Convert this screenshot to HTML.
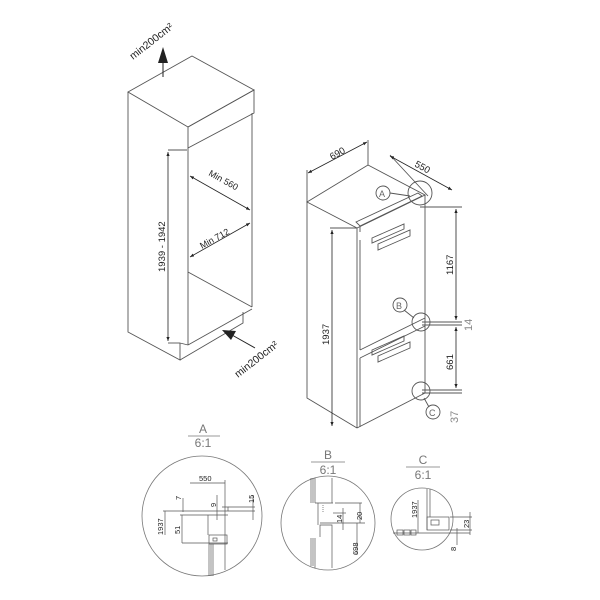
<!DOCTYPE html>
<html><head><meta charset="utf-8"><style>
html,body{margin:0;padding:0;background:#fff;}
svg{display:block;}
text{font-family:"Liberation Sans",sans-serif;fill:#222;}
</style></head><body>
<svg width="600" height="600" viewBox="0 0 600 600" xmlns="http://www.w3.org/2000/svg">
<defs>
<marker id="ar" viewBox="0 0 10 10" refX="10" refY="5" markerWidth="5" markerHeight="5" orient="auto-start-reverse"><path d="M0,1 L10,5 L0,9 z" fill="#222"/></marker>
</defs>
<g fill="none" stroke="#555" stroke-width="0.9">
<!-- LEFT CABINET -->
<polygon points="128,92 192,56 254,90 188,127" />
<polyline points="128,92 128,332 180,360 180,343"/>
<polygon points="188,127 254,90 254,113 188,148"/>
<line x1="188" y1="148" x2="188" y2="345"/>
<line x1="252" y1="113" x2="252" y2="307"/>
<line x1="188" y1="272" x2="252" y2="307"/>
<line x1="188" y1="345" x2="252" y2="309"/>
<polyline points="180,360 243,323 243,312"/>
<line x1="180" y1="343" x2="188" y2="345"/>
<!-- dims -->
<line x1="168" y1="150" x2="187" y2="150"/>
<line x1="168" y1="343" x2="180" y2="343"/>
</g>
<g stroke="#222" stroke-width="0.8" fill="none">
<line x1="168" y1="152" x2="168" y2="341" marker-start="url(#ar)" marker-end="url(#ar)"/>
<line x1="190" y1="176" x2="250" y2="210" marker-start="url(#ar)" marker-end="url(#ar)"/>
<line x1="190" y1="257" x2="250" y2="223" marker-start="url(#ar)" marker-end="url(#ar)"/>
</g>
<line x1="163" y1="77" x2="163" y2="62" stroke="#222" stroke-width="1"/>
<polygon points="158,63 168,63 163,47" fill="#222"/>
<line x1="255" y1="348" x2="232" y2="335" stroke="#222" stroke-width="1"/>
<polygon points="222,330 236,331 231,340" fill="#222"/>
<text x="0" y="0" font-size="10.5" transform="translate(133,60) rotate(-38)">min200cm²</text>
<text x="0" y="0" font-size="10.5" transform="translate(238,378) rotate(-38)">min200cm²</text>
<text x="0" y="0" font-size="9" transform="translate(208,175) rotate(29)">Min 560</text>
<text x="0" y="0" font-size="9" transform="translate(202,249) rotate(-29)">Min 712</text>
<text x="0" y="0" font-size="9.5" transform="translate(165,272) rotate(-90)">1939 - 1942</text>

<!-- RIGHT FRIDGE -->
<g fill="none" stroke="#555" stroke-width="0.9">
<polygon points="307,202 368,165 425,195 357,228"/>
<polyline points="307,202 307,398 357,428"/>
<line x1="357" y1="228" x2="357" y2="428"/>
<line x1="425" y1="195" x2="425" y2="393"/>
<line x1="357" y1="428" x2="425" y2="393"/>
<line x1="360" y1="240" x2="360" y2="350"/>
<line x1="360" y1="358" x2="360" y2="427"/>
<line x1="360" y1="350" x2="425" y2="318"/>
<line x1="360" y1="358" x2="425" y2="326"/>
<!-- top rail -->
<polygon points="356,222 418,193 422,196 360,226"/>
<line x1="360" y1="226" x2="360" y2="232"/>
<polygon points="372,238 404,224 404,229 372,243"/>
<polygon points="378,244 410,230 410,236 378,250"/>
<polygon points="372,350 404,336 404,341 372,355"/>
<polygon points="378,356 410,342 410,348 378,362"/>
<!-- extension lines -->
<line x1="307" y1="170" x2="307" y2="202"/>
<line x1="368" y1="140" x2="368" y2="165"/>
<line x1="390" y1="155" x2="428" y2="196"/>
<line x1="420" y1="207" x2="462" y2="207"/>
<line x1="422" y1="322" x2="462" y2="322"/>
<line x1="422" y1="325" x2="462" y2="325"/>
<line x1="422" y1="390" x2="462" y2="390"/>
<line x1="422" y1="393" x2="462" y2="393"/>
<line x1="330" y1="228" x2="357" y2="228"/>
<circle cx="420" cy="193" r="12"/>
<circle cx="421" cy="322" r="9"/>
<circle cx="421" cy="391" r="9"/>
<circle cx="383" cy="193" r="7"/>
<circle cx="400" cy="305" r="7"/>
<circle cx="433" cy="412" r="7"/>
<line x1="390" y1="193" x2="410" y2="196"/>
<line x1="404" y1="310" x2="414" y2="318"/>
<line x1="429" y1="407" x2="424" y2="398"/>
</g>
<g stroke="#222" stroke-width="0.8" fill="none">
<line x1="308" y1="173" x2="367" y2="142" marker-start="url(#ar)" marker-end="url(#ar)"/>
<line x1="390" y1="156" x2="452" y2="190" marker-start="url(#ar)" marker-end="url(#ar)"/>
<line x1="332" y1="230" x2="332" y2="426" marker-start="url(#ar)" marker-end="url(#ar)"/>
<line x1="456" y1="209" x2="456" y2="320" marker-start="url(#ar)" marker-end="url(#ar)"/>
<line x1="456" y1="327" x2="456" y2="388" marker-start="url(#ar)" marker-end="url(#ar)"/>
</g>
<text font-size="9.5" transform="translate(332,160) rotate(-29)">690</text>
<text font-size="9.5" transform="translate(414,166) rotate(29)">550</text>
<text font-size="9.5" transform="translate(329,345) rotate(-90)">1937</text>
<text font-size="9.5" transform="translate(453,275) rotate(-90)">1167</text>
<text font-size="9.5" transform="translate(453,370) rotate(-90)">661</text>
<text font-size="11" fill="#888" style="fill:#888" transform="translate(472,331) rotate(-90)">14</text>
<text font-size="11" style="fill:#888" transform="translate(458,423) rotate(-90)">37</text>
<text font-size="9" style="fill:#666" x="379" y="197">A</text>
<text font-size="9" style="fill:#666" x="396" y="309">B</text>
<text font-size="9" style="fill:#666" x="429" y="416">C</text>

<!-- DETAIL TITLES -->
<g style="fill:#777">
<text x="203" y="433" font-size="12" text-anchor="middle" style="fill:#777">A</text>
<text x="203" y="447" font-size="12" text-anchor="middle" style="fill:#777">6:1</text>
<text x="328" y="459" font-size="12" text-anchor="middle" style="fill:#777">B</text>
<text x="328" y="474" font-size="12" text-anchor="middle" style="fill:#777">6:1</text>
<text x="423" y="464" font-size="12" text-anchor="middle" style="fill:#777">C</text>
<text x="423" y="479" font-size="12" text-anchor="middle" style="fill:#777">6:1</text>
</g>
<g stroke="#777" stroke-width="0.8" fill="none">
<line x1="188" y1="436" x2="220" y2="436"/>
<line x1="311" y1="462" x2="345" y2="462"/>
<line x1="406" y1="467" x2="440" y2="467"/>
<circle cx="202" cy="516" r="60"/>
<circle cx="328" cy="523" r="47"/>
<circle cx="422" cy="519" r="31"/>
</g>
<!-- detail A -->
<g stroke="#555" stroke-width="0.7" fill="none">
<line x1="190" y1="483" x2="225" y2="483"/>
<line x1="225" y1="480" x2="225" y2="570"/>
<polyline points="180,511 228,511 228,507 222,507"/>
<line x1="180" y1="515" x2="228" y2="515"/>
<line x1="228" y1="507" x2="255" y2="507"/>
<line x1="228" y1="511" x2="255" y2="511"/>
<line x1="253" y1="495" x2="253" y2="520"/>
<line x1="217" y1="495" x2="217" y2="520"/>
<line x1="183" y1="498" x2="183" y2="512"/>
<line x1="163" y1="511" x2="180" y2="511"/>
<line x1="165" y1="511" x2="165" y2="535"/>
<line x1="182" y1="515" x2="182" y2="543"/>
<line x1="182" y1="543" x2="228" y2="543"/>
<line x1="208" y1="515" x2="208" y2="535"/>
<rect x="209" y="535" width="18" height="9"/>
<rect x="213" y="538" width="4" height="3"/>
<line x1="209" y1="544" x2="209" y2="576"/>
<line x1="211" y1="544" x2="211" y2="576"/>
<line x1="213" y1="544" x2="213" y2="576"/>
</g>
<text font-size="7.5" x="199" y="481">550</text>
<text font-size="7.5" transform="translate(181,500) rotate(-90)">7</text>
<text font-size="7.5" transform="translate(216,507) rotate(-90)">9</text>
<text font-size="7.5" transform="translate(254,503) rotate(-90)">15</text>
<text font-size="7.5" transform="translate(163,535) rotate(-90)">1937</text>
<text font-size="7.5" transform="translate(180,534) rotate(-90)">51</text>
<!-- detail B -->
<g stroke="#555" stroke-width="0.7" fill="none">
<line x1="311" y1="478" x2="311" y2="503"/>
<line x1="313" y1="478" x2="313" y2="503"/>
<line x1="315" y1="478" x2="315" y2="503"/>
<line x1="332" y1="478" x2="332" y2="503"/>
<line x1="315" y1="503" x2="333" y2="503"/>
<line x1="323" y1="505" x2="323" y2="513" stroke-dasharray="1,1"/>
<line x1="318" y1="503" x2="318" y2="525"/>
<polyline points="320,537 320,525 332,525 332,537"/>
<line x1="311" y1="538" x2="311" y2="566"/>
<line x1="313" y1="538" x2="313" y2="566"/>
<line x1="315" y1="538" x2="315" y2="568"/>
<line x1="332" y1="537" x2="332" y2="568"/>
<line x1="335" y1="503" x2="362" y2="503"/>
<line x1="333" y1="513" x2="346" y2="513"/>
<line x1="320" y1="523" x2="365" y2="523"/>
<line x1="360" y1="503" x2="360" y2="523"/>
<line x1="343" y1="508" x2="343" y2="530"/>
<line x1="357" y1="523" x2="357" y2="555"/>
</g>
<text font-size="7.5" transform="translate(362,520) rotate(-90)">20</text>
<text font-size="7.5" transform="translate(342,523) rotate(-90)">14</text>
<text font-size="7.5" transform="translate(358,555) rotate(-90)">698</text>
<!-- detail C -->
<g stroke="#555" stroke-width="0.7" fill="none">
<line x1="427" y1="489" x2="427" y2="530"/>
<line x1="430" y1="489" x2="430" y2="517"/>
<rect x="427" y="517" width="22" height="13"/>
<rect x="431" y="520" width="8" height="5"/>
<line x1="393" y1="533" x2="470" y2="533"/>
<line x1="450" y1="517" x2="472" y2="517"/>
<line x1="450" y1="530" x2="472" y2="530"/>
<line x1="470" y1="512" x2="470" y2="535"/>
<line x1="457" y1="528" x2="457" y2="545"/>
<line x1="418" y1="500" x2="418" y2="533"/>
<rect x="397" y="530" width="6" height="5"/>
<rect x="404" y="530" width="6" height="5"/>
<rect x="411" y="530" width="5" height="5"/>
</g>
<text font-size="7.5" transform="translate(417,518) rotate(-90)">1937</text>
<text font-size="7.5" transform="translate(469,528) rotate(-90)">23</text>
<text font-size="7.5" transform="translate(456,551) rotate(-90)">8</text>
</svg>
</body></html>
